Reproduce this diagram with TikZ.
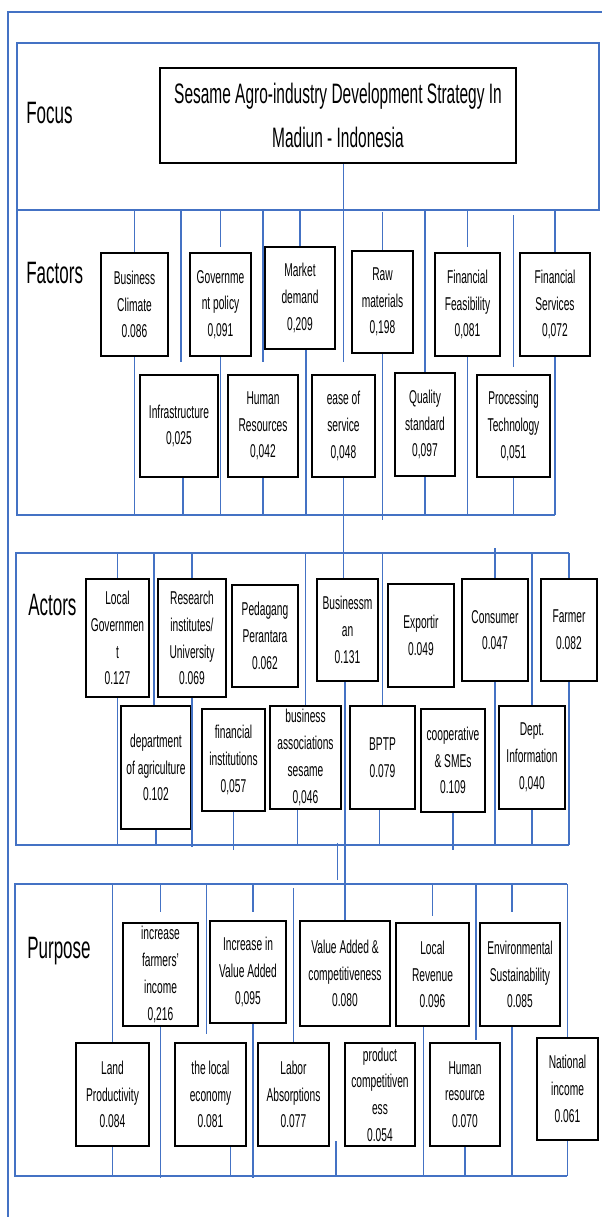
\documentclass[tikz,border=0pt]{standalone}
\usepackage{fontspec}
\setmainfont{Liberation Sans}[FakeStretch=0.55]
\usepackage{tikz}
\usetikzlibrary{calc}
\definecolor{railblue}{RGB}{68,114,196}

\begin{document}
\begin{tikzpicture}[x=0.025cm,y=-0.025cm,
  rail/.style={draw=railblue,line width=1.4pt},
  crit/.style 2 args={draw,line width=1.8pt,minimum width=#1*0.025cm,minimum height=#2*0.025cm,inner sep=0pt,align=center,font=\fontsize{13.2}{19}\selectfont},
  lvl/.style={anchor=base west,inner sep=0pt,font=\fontsize{22}{26}\selectfont}]
\useasboundingbox (0,0) rectangle (602,1217);

% frames of the four levels
\draw[rail] (8,1217) -- (8,12) -- (602,12);
\draw[rail] (17,43) rectangle (599,210);
\draw[rail] (17,210) -- (17,515) -- (555,515);
\draw[rail] (569,553) -- (16,553) -- (16,845) -- (569,845);
\draw[rail] (567,884) -- (15,884) -- (15,1176) -- (567,1176);
\coordinate (facTop) at (17,210);
\coordinate (facBot) at (17,515);
\coordinate (actTop) at (16,553);
\coordinate (actBot) at (16,845);
\coordinate (purTop) at (15,884);
\coordinate (purBot) at (15,1176);

\node[lvl] (lfoc) at (26,123) {Focus};
\node[lvl] (lfac) at (26,283) {Factors};
\node[lvl] (lact) at (28,615) {Actors};
\node[lvl] (lpur) at (27,958) {Purpose};

\node[crit={356}{95},font=\fontsize{20}{31}\selectfont] (goal) at (338,115.5) {Sesame Agro-industry Development Strategy In\\Madiun - Indonesia};

% factors
\node[crit={67}{103}] (bc) at (134.5,304.5) {Business\\Climate\\0.086};
\node[crit={61}{103}] (gp) at (220.5,304.5) {Governme\\nt policy\\0,091};
\node[crit={70}{102}] (md) at (300,298) {Market\\demand\\0,209};
\node[crit={61}{102}] (rm) at (382.5,302) {Raw\\materials\\0,198};
\node[crit={65}{103}] (ff) at (467.5,304.5) {Financial\\Feasibility\\0,081};
\node[crit={70}{103}] (fs) at (555,304.5) {Financial\\Services\\0,072};
\node[crit={78}{102}] (inf) at (179,426) {Infrastructure\\0,025};
\node[crit={70}{102}] (hr) at (263,426) {Human\\Resources\\0,042};
\node[crit={63}{102}] (eos) at (343.5,426) {ease of\\service\\0,048};
\node[crit={60}{103}] (qs) at (425,424.5) {Quality\\standard\\0,097};
\node[crit={73}{102}] (pt) at (513.5,426) {Processing\\Technology\\0,051};

% actors
\node[crit={63}{118}] (lg) at (117.5,638) {Local\\Governmen\\t\\0.127};
\node[crit={68}{118}] (ri) at (192,638) {Research\\institutes/\\University\\0.069};
\node[crit={66}{102}] (pp) at (265,636) {Pedagang\\Perantara\\0.062};
\node[crit={61}{102}] (bm) at (347.5,630) {Businessm\\an\\0.131};
\node[crit={66}{103}] (ex) at (421,635.5) {Exportir\\0.049};
\node[crit={66}{102}] (co) at (495,630) {Consumer\\0.047};
\node[crit={56}{102}] (fa) at (569,630) {Farmer\\0.082};
\node[crit={70}{123}] (da) at (156,767.5) {department\\of agriculture\\0.102};
\node[crit={63}{102}] (fi) at (233.5,760) {financial\\institutions\\0,057};
\node[crit={71}{103}] (ba) at (305.5,757.5) {business\\associations\\sesame\\0,046};
\node[crit={65}{103}] (bp) at (382.5,757.5) {BPTP\\0.079};
\node[crit={64}{103}] (cs) at (453,760.5) {cooperative\\\& SMEs\\0.109};
\node[crit={66}{103}] (di) at (532,757.5) {Dept.\\Information\\0,040};

% purpose
\node[crit={75}{103}] (ifi) at (160.5,974.5) {increase\\farmers'\\income\\0,216};
\node[crit={76}{102}] (iva) at (248,972) {Increase in\\Value Added\\0,095};
\node[crit={90}{105}] (vac) at (345,973.5) {Value Added \&\\competitiveness\\0.080};
\node[crit={73}{103}] (lr) at (432.5,974.5) {Local\\Revenue\\0.096};
\node[crit={80}{103}] (es) at (520,974.5) {Environmental\\Sustainability\\0.085};
\node[crit={73}{103}] (lp) at (112.5,1094.5) {Land\\Productivity\\0.084};
\node[crit={71}{103}] (le) at (210.5,1094.5) {the local\\economy\\0.081};
\node[crit={71}{103}] (la) at (293.5,1094.5) {Labor\\Absorptions\\0.077};
\node[crit={70}{103}] (pc) at (380,1094.5) {product\\competitiven\\ess\\0.054};
\node[crit={70}{103}] (hu) at (465,1094.5) {Human\\resource\\0.070};
\node[crit={61}{102}] (ni) at (567.5,1089) {National\\income\\0.061};

% focus to factors
\draw[rail] (eos.north |- goal.south) -- ([yshift=0.3cm]eos.north);
\draw[rail] (eos.south) -- (bm.north -| eos.south);
\draw[rail] (bm.south -| vac.north) -- (vac.north);

\draw[rail] (bc.north) -- (bc.north |- facTop) (bc.south) -- (bc.south |- facBot);
\draw[rail] ([yshift=0.12cm]gp.north) -- (gp.north |- facTop) (gp.south) -- (gp.south |- facBot);
\draw[rail] (md.north) -- (md.north |- facTop) ($(md.south)+(6,0)$) -- ($(md.south |- facBot)+(6,0)$);
\draw[rail] (rm.north) -- ($(rm.north |- facTop)+(0,2)$) (rm.south) -- ($(rm.south |- facBot)+(0,5)$);
\draw[rail] ([yshift=0.12cm]ff.north) -- (ff.north |- facTop) (ff.south) -- (ff.south |- facBot);
\draw[rail] (fs.north) -- (fs.north |- facTop) (fs.south) -- (fs.south |- facBot);
\draw[rail] ($(inf.north)+(2,-12)$) -- ($(inf.north |- facTop)+(2,0)$) ($(inf.south)+(4,0)$) -- ($(inf.south |- facBot)+(4,0)$);
\draw[rail] ([yshift=0.3cm]hr.north) -- (hr.north |- facTop) (hr.south) -- (hr.south |- facBot);
\draw[rail] (qs.north) -- (qs.north |- facTop) (qs.south) -- (qs.south |- facBot);
\draw[rail] ([yshift=0.18cm]pt.north) -- ($(pt.north |- facTop)+(0,5)$) (pt.south) -- (pt.south |- facBot);

\draw[rail] (lg.north) -- (lg.north |- actTop) (lg.south) -- (lg.south |- actBot);
\draw[rail] (ri.north) -- (ri.north |- actTop) (ri.south) -- ($(ri.south |- actBot)+(0,2)$);
\draw[rail] (co.north) -- ($(co.north |- actTop)+(0,-5)$) (co.south) -- (co.south |- actBot);
\draw[rail] (fa.north) -- (fa.north |- actTop) (fa.south) -- (fa.south |- actBot);
\draw[rail] ($(da.north)+(-2,0)$) -- ($(da.north |- actTop)+(-2,0)$) (da.south) -- (da.south |- actBot);
\draw[rail] (fi.south) -- ($(fi.south |- actBot)+(0,5)$);
\draw[rail] (ba.north) -- (ba.north |- actTop) ($(ba.south)+(-8,0)$) -- ($(ba.south |- actBot)+(-8,0)$);
\draw[rail] (bp.north) -- (bp.north |- actTop) ($(bp.south)+(-3,0)$) -- ($(bp.south |- actBot)+(-3,0)$);
\draw[rail] (cs.south) -- ($(cs.south |- actBot)+(0,5)$);
\draw[rail] (di.north) -- (di.north |- actTop) (di.south) -- (di.south |- actBot);
\draw[rail] ($(bm.south |- actBot)+(-10,-2)$) -- ($(bm.south |- purTop)+(-10,-4)$);

\draw[rail] (ifi.north |- purTop) -- ([yshift=0.25cm]ifi.north) (ifi.south) -- ($(ifi.south |- purBot)+(0,2)$);
\draw[rail] ($(iva.north |- purTop)+(5,0)$) -- ($(iva.north)+(5,-8)$) ($(iva.south)+(5,0)$) -- ($(iva.south |- purBot)+(5,2)$);
\draw[rail] (lr.north |- purTop) -- ([yshift=0.15cm]lr.north) ($(lr.south)+(-9,0)$) -- ($(lr.south |- purBot)+(-9,0)$);
\draw[rail] ($(es.north |- purTop)+(-8,0)$) -- ($(es.north)+(-8,-10)$) ($(es.south)+(-8,0)$) -- ($(es.south |- purBot)+(-8,0)$);
\draw[rail] (lp.north) -- (lp.north |- purTop) (lp.south) -- (lp.south |- purBot);
\draw[rail] ($(le.north |- purTop)+(-4,0)$) -- ($(le.north)+(-4,-8)$) ($(le.south)+(20,0)$) -- ($(le.south |- purBot)+(20,0)$);
\draw[rail] (la.north) -- ($(la.north |- purTop)+(0,4)$);
\draw[rail] ($(pc.south west)+(-8,-6)$) -- ($(pc.south west |- purBot)+(-8,0)$);
\draw[rail] ($(hu.north |- purTop)+(11,0)$) -- ($(hu.north)+(11,-2)$) (hu.south) -- (hu.south |- purBot);
\draw[rail] (ni.north) -- (ni.north |- purTop) (ni.south) -- (ni.south |- purBot);
\end{tikzpicture}
\end{document}
